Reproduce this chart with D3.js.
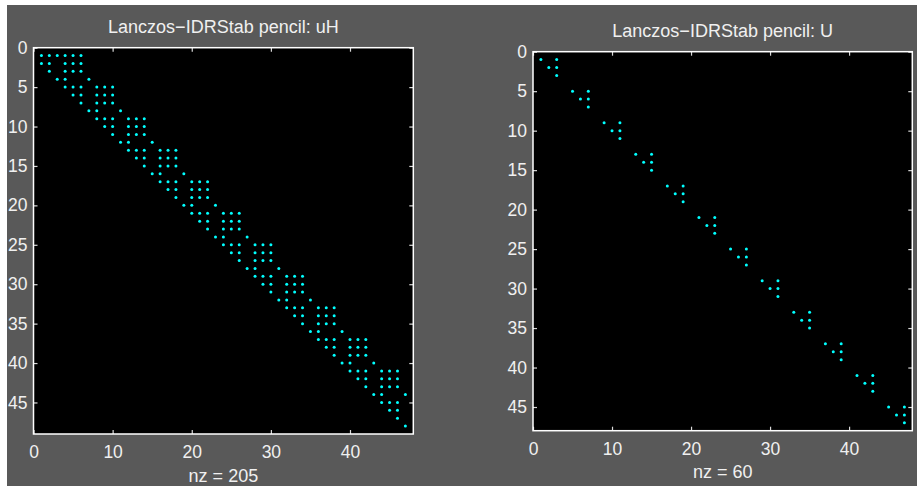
<!DOCTYPE html>
<html>
<head>
<meta charset="utf-8">
<script src="https://cdn.jsdelivr.net/npm/d3@7"></script>
<style>
  body { margin: 0; background: #fff; }
  svg text { font-family: "Liberation Sans", Arial, sans-serif; fill: #f0f0f0; }
</style>
</head>
<body>
<div id="chart"></div>
<script>
// nonzero columns of each row (1-based), upper Hessenberg uH: 48 x 47
var uHRows = [
  [1,2,3,4,5,6], [1,2,4,5,6], [2,4,5,6], [3,4,7],
  [4,5,6,8,9,10], [5,6,8,9,10], [6,8,9,10], [7,8,11],
  [8,9,10,12,13,14], [9,10,12,13,14], [10,12,13,14], [11,12,15],
  [12,13,14,16,17,18], [13,14,16,17,18], [14,16,17,18], [15,16,19],
  [16,17,18,20,21,22], [17,18,20,21,22], [18,20,21,22], [19,20,23],
  [20,21,22,24,25,26], [21,22,24,25,26], [22,24,25,26], [23,24,27],
  [24,25,26,28,29,30], [25,26,28,29,30], [26,28,29,30], [27,28,31],
  [28,29,30,32,33,34], [29,30,32,33,34], [30,32,33,34], [31,32,35],
  [32,33,34,36,37,38], [33,34,36,37,38], [34,36,37,38], [35,36,39],
  [36,37,38,40,41,42], [37,38,40,41,42], [38,40,41,42], [39,40,43],
  [40,41,42,44,45,46], [41,42,44,45,46], [42,44,45,46], [43,44,47],
  [44,45,46], [45,46], [46], [47]
];

// nonzero columns of each row, U: 47 x 47
var URows = [
  [1,3], [2,3], [3], [],
  [5,7], [6,7], [7], [],
  [9,11], [10,11], [11], [],
  [13,15], [14,15], [15], [],
  [17,19], [18,19], [19], [],
  [21,23], [22,23], [23], [],
  [25,27], [26,27], [27], [],
  [29,31], [30,31], [31], [],
  [33,35], [34,35], [35], [],
  [37,39], [38,39], [39], [],
  [41,43], [42,43], [43], [],
  [45,47], [46,47], [47]
];

var xTicks = [0, 10, 20, 30, 40];
var yTicks = [0, 5, 10, 15, 20, 25, 30, 35, 40, 45];

var titles = ["Lanczos\u2212IDRStab pencil: uH", "Lanczos\u2212IDRStab pencil: U"];
var nzLabels = ["nz = 205", "nz = 60"];

var width = 917, height = 486;

var svg = d3.select("#chart")
    .append("svg")
    .attr("width", width)
    .attr("height", height);

// figure background
svg.append("rect")
    .attr("x", 7).attr("y", 5)
    .attr("width", width - 7).attr("height", height - 5)
    .attr("fill", "#595959");

var panels = [
  {left: 33.5, right: 413.3, top: 47.7, bottom: 434, nRows: 48, nCols: 47, rows: uHRows},
  {left: 533, right: 912.3, top: 51.7, bottom: 430.7, nRows: 47, nCols: 47, rows: URows}
];

panels.forEach(function(p, i) {
  var xScale = d3.scaleLinear()
      .domain([0, p.nCols + 1])
      .range([p.left, p.right]);

  var yScale = d3.scaleLinear()
      .domain([0, p.nRows + 1])
      .range([p.top, p.bottom]);

  var g = svg.append("g");

  g.append("rect")
      .attr("x", p.left).attr("y", p.top)
      .attr("width", p.right - p.left)
      .attr("height", p.bottom - p.top)
      .attr("fill", "#000");

  // flatten row lists into points
  var pts = [];
  p.rows.forEach(function(cols, r) {
    cols.forEach(function(c) { pts.push({row: r + 1, col: c}); });
  });

  g.selectAll("circle.dot")
      .data(pts)
      .enter().append("circle")
      .attr("class", "dot")
      .attr("cx", function(d) { return xScale(d.col); })
      .attr("cy", function(d) { return yScale(d.row); })
      .attr("r", 1.5)
      .attr("fill", "#00ffff");

  // axes, ticks pointing inward
  var xAxis = g.append("g")
      .attr("transform", `translate(0, ${p.bottom})`)
      .call(d3.axisBottom(xScale).tickValues(xTicks).tickSizeInner(-4).tickSizeOuter(0).tickPadding(12));

  var xAxisTop = g.append("g")
      .attr("transform", `translate(0, ${p.top})`)
      .call(d3.axisTop(xScale).tickValues(xTicks).tickSizeInner(-4).tickSizeOuter(0).tickFormat(""));

  var yAxis = g.append("g")
      .attr("transform", `translate(${p.left}, 0)`)
      .call(d3.axisLeft(yScale).tickValues(yTicks).tickSizeInner(-4).tickSizeOuter(0).tickPadding(6));

  var yAxisRight = g.append("g")
      .attr("transform", `translate(${p.right}, 0)`)
      .call(d3.axisRight(yScale).tickValues(yTicks).tickSizeInner(-4).tickSizeOuter(0).tickFormat(""));

  g.selectAll(".domain").remove();
  g.selectAll(".tick line").attr("stroke", "#d8d8d8").attr("stroke-width", 1.2);
  g.selectAll(".tick text")
      .attr("fill", "#f0f0f0")
      .style("font-size", "17.5px");

  // box
  g.append("rect")
      .attr("x", p.left).attr("y", p.top)
      .attr("width", p.right - p.left)
      .attr("height", p.bottom - p.top)
      .attr("fill", "none")
      .attr("stroke", "#ffffff")
      .attr("stroke-width", 1.5);

  // title and label
  g.append("text")
      .attr("x", (p.left + p.right) / 2)
      .attr("y", p.top - 15)
      .attr("text-anchor", "middle")
      .style("font-size", "18px")
      .text(titles[i]);

  g.append("text")
      .attr("x", (p.left + p.right) / 2)
      .attr("y", p.bottom + 47.5)
      .attr("text-anchor", "middle")
      .style("font-size", "18px")
      .text(nzLabels[i]);
});
</script>
</body>
</html>
